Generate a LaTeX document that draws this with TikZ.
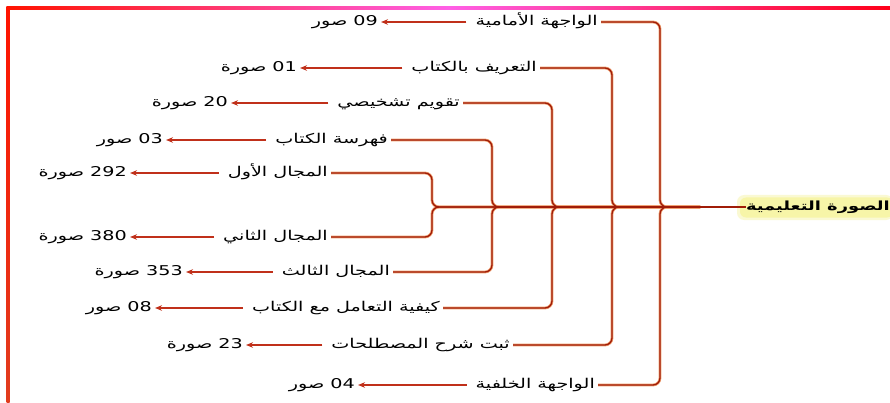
\documentclass[tikz,border=0pt]{standalone}
\usepackage{fontspec}
\TeXXeTstate=1
\newfontfamily\arabicfont[Script=Arabic,FakeStretch=1.42]{DejaVu Sans}
\usetikzlibrary{arrows.meta}
\definecolor{brdark}{HTML}{A01C08}
\definecolor{brglow}{HTML}{F0A070}
\definecolor{arrcol}{HTML}{C0301A}
\definecolor{rootbg}{HTML}{F7F5A8}
\newcommand{\artx}[1]{{\arabicfont\beginR #1\endR}}
\newcommand{\arnum}[2]{{\arabicfont\beginR\beginL #1\endL{} #2\endR}}
\tikzset{
  lab/.style={anchor=east, inner sep=0pt, text height=11pt, text depth=4pt, font=\fontsize{13.5}{15}\selectfont},
  numb/.style={anchor=east, inner sep=0pt, text height=11pt, text depth=4pt, font=\fontsize{13.5}{15}\selectfont},
  arr/.style={draw=arrcol, line width=1.3pt, -{Stealth[length=7pt,width=5.5pt]}, shorten <=9pt, shorten >=3pt},
  brglowline/.style={draw=brglow, line width=2.8pt, rounded corners=7pt},
  brline/.style={draw=brdark, line width=1.3pt, rounded corners=7pt},
}
\begin{document}
\begin{tikzpicture}[x=1pt,y=-1pt]
\useasboundingbox (0,0) rectangle (890,403);
\fill[white] (0,0) rectangle (890,403);
% borders
\shade[left color=red!85!orange, right color=red!90!magenta, middle color={rgb,255:red,255;green,95;blue,230}] (6.5,6.5) rectangle (890,9.5);
\shade[top color=red!85!orange, bottom color={rgb,255:red,225;green,60;blue,30}] (6.5,6.5) rectangle (9.5,403);

% root
\fill[rootbg, rounded corners=7pt, opacity=0.5] (737,195) rectangle (893,220);
\fill[rootbg, rounded corners=6pt] (740,197.5) rectangle (893,217.5);
\node[lab, font=\fontsize{12.6}{15}\selectfont\bfseries] (root) at (890,207) {\artx{الصورة التعليمية}};
\coordinate (hub) at (700,207);

% labels
\node[lab] (l1) at (598,22) {\artx{الواجهة الأمامية}};
\node[lab] (l2) at (537,68) {\artx{التعريف بالكتاب}};
\node[lab] (l3) at (460,103) {\artx{تقويم تشخيصي}};
\node[lab] (l4) at (388,140) {\artx{فهرسة الكتاب}};
\node[lab] (l5) at (328,173) {\artx{المجال الأول}};
\node[lab] (l6) at (328,237) {\artx{المجال الثاني}};
\node[lab] (l7) at (390,272) {\artx{المجال الثالث}};
\node[lab] (l8) at (440,308) {\artx{كيفية التعامل مع الكتاب}};
\node[lab] (l9) at (510,345) {\artx{ثبت شرح المصطلحات}};
\node[lab] (l10) at (595,385) {\artx{الواجهة الخلفية}};

% numbers
\node[numb] (n1) at (378,22) {\arnum{09}{صور}};
\node[numb] (n2) at (297,68) {\arnum{01}{صورة}};
\node[numb] (n3) at (228,103) {\arnum{20}{صورة}};
\node[numb] (n4) at (163,140) {\arnum{03}{صور}};
\node[numb] (n5) at (127,173) {\arnum{292}{صورة}};
\node[numb] (n6) at (127,237) {\arnum{380}{صورة}};
\node[numb] (n7) at (183,272) {\arnum{353}{صورة}};
\node[numb] (n8) at (152,308) {\arnum{08}{صور}};
\node[numb] (n9) at (243,345) {\arnum{23}{صورة}};
\node[numb] (n10) at (355,385) {\arnum{04}{صور}};

% arrows
\foreach \i in {1,...,10} { \draw[arr] (l\i.west) -- (n\i.east); }

% branches
\foreach \i/\xv in {1/660,2/612,3/552,4/492,5/432,6/432,7/492,8/552,9/612,10/660} {
  \draw[brglowline] ([xshift=3pt]l\i.east) -- (\xv,0 |- l\i.east) -- (\xv,207) -- (hub);
}
\foreach \i/\xv in {1/660,2/612,3/552,4/492,5/432,6/432,7/492,8/552,9/612,10/660} {
  \draw[brline] ([xshift=3pt]l\i.east) -- (\xv,0 |- l\i.east) -- (\xv,207) -- (hub);
}
\draw[brdark, line width=1.3pt] (hub) -- (root.west);
\end{tikzpicture}
\end{document}
